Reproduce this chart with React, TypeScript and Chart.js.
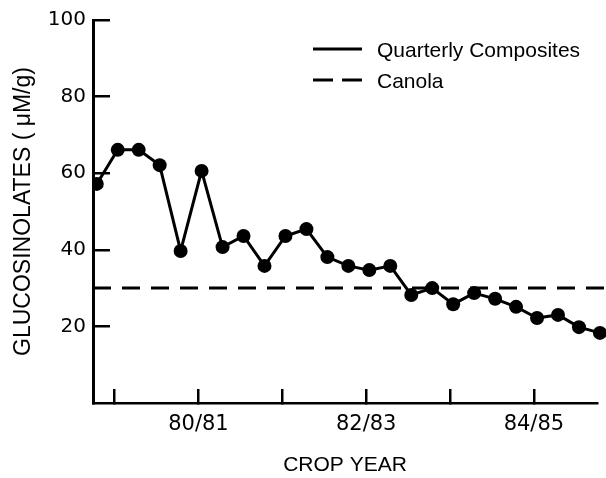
import React, { useEffect, useRef } from "react";
import { Chart, registerables } from "chart.js";

Chart.register(...registerables);

// Quarterly composite glucosinolate values (µM/g), one per quarter
const quarterValues = [
  57.2, 66.1, 66.1, 62.1, 39.7, 60.6, 40.7, 43.6, 35.8, 43.6, 45.4, 38.1, 35.8,
  34.7, 35.8, 28.2, 30.0, 25.8, 28.7, 27.2, 25.1, 22.2, 23.0, 19.8, 18.3,
];
const quarterIndex = quarterValues.map((_, i) => i);
const canolaLevel = 30;
const canolaSpan = [-0.18, 24.4];

const xTickPositions = [0.85, 4.85, 8.85, 12.85, 16.85, 20.85];
const xTickLabels = ["", "80/81", "", "82/83", "", "84/85"];
const yTickValues = [20, 40, 60, 80, 100];

const seriesNames = ["Quarterly Composites", "Canola"];
const yTitle = "GLUCOSINOLATES ( \u03BCM/g)";
const xTitle = "CROP YEAR";

const FONT = "'Liberation Sans', Arial, Helvetica, sans-serif";
const TICK_FONT = "'DejaVu Sans', 'Liberation Sans', sans-serif";

const legendPlugin = {
  id: "insetLegend",
  afterDraw(chart: any) {
    const ctx = chart.ctx;
    const ds = chart.data.datasets;
    ctx.save();
    ctx.strokeStyle = "#000";
    ctx.fillStyle = "#000";
    ctx.lineWidth = 3;
    const rows = [
      { y: 49, dash: [] as number[] },
      { y: 80, dash: [20, 9] },
    ];
    rows.forEach((r, i) => {
      ctx.setLineDash(r.dash);
      ctx.beginPath();
      ctx.moveTo(313, r.y);
      ctx.lineTo(362, r.y);
      ctx.stroke();
      ctx.setLineDash([]);
      ctx.font = `21px ${FONT}`;
      ctx.textBaseline = "middle";
      ctx.textAlign = "left";
      ctx.fillText(ds[i].label, 377, r.y + 2);
    });
    ctx.restore();
  },
};

export default function App() {
  const ref = useRef<HTMLCanvasElement | null>(null);

  useEffect(() => {
    if (!ref.current) return;
    const chart = new Chart(ref.current, {
      type: "line",
      data: {
        datasets: [
          {
            label: seriesNames[0],
            data: quarterIndex.map((x, i) => ({ x, y: quarterValues[i] })),
            borderColor: "#000",
            backgroundColor: "#000",
            borderWidth: 3,
            pointRadius: 7,
            pointBackgroundColor: "#000",
            pointBorderWidth: 0,
            pointHoverRadius: 7,
            tension: 0,
            clip: { left: 0, top: false, right: false, bottom: false } as any,
          },
          {
            label: seriesNames[1],
            data: canolaSpan.map((x) => ({ x, y: canolaLevel })),
            borderColor: "#000",
            borderWidth: 3,
            borderDash: [18, 11],
            pointRadius: 0,
            tension: 0,
            clip: false as any,
          },
        ],
      },
      options: {
        responsive: false,
        animation: false,
        layout: { padding: { left: 0, right: 9, top: 20, bottom: 0 } },
        plugins: {
          legend: { display: false },
          tooltip: { enabled: false },
        },
        scales: {
          x: {
            type: "linear",
            min: -0.18,
            max: 23.86,
            afterBuildTicks: (scale: any) => {
              scale.ticks = xTickPositions.map((v) => ({ value: v }));
            },
            afterFit: (scale: any) => {
              scale.height = 75;
              scale.paddingLeft = 0;
              scale.paddingRight = 0;
            },
            ticks: {
              callback: (_v: any, i: number) => xTickLabels[i],
              color: "#000",
              font: { family: TICK_FONT, size: 21 },
              padding: 23,
              maxRotation: 0,
              autoSkip: false,
            },
            grid: {
              drawOnChartArea: false,
              drawTicks: true,
              tickLength: -14,
              color: "#000",
              lineWidth: 2.5,
            },
            border: { display: true, color: "#000", width: 2.5 },
            title: {
              display: true,
              text: xTitle,
              color: "#000",
              font: { family: FONT, size: 21 },
              padding: { top: 0, bottom: 0 },
            },
          },
          y: {
            min: 0,
            max: 100,
            afterBuildTicks: (scale: any) => {
              scale.ticks = yTickValues.map((v) => ({ value: v }));
            },
            afterFit: (scale: any) => {
              scale.width = 93;
              scale.paddingTop = 0;
              scale.paddingBottom = 0;
            },
            ticks: {
              color: "#000",
              font: { family: TICK_FONT, size: 20 },
              padding: 24,
            },
            grid: {
              drawOnChartArea: false,
              drawTicks: true,
              tickLength: -17,
              color: "#000",
              lineWidth: 2.5,
            },
            border: { display: true, color: "#000", width: 3 },
            title: {
              display: true,
              text: yTitle,
              color: "#000",
              font: { family: FONT, size: 23 },
              padding: { top: 10, bottom: 0 },
            },
          },
        },
      },
      plugins: [legendPlugin],
    } as any);
    return () => chart.destroy();
  }, []);

  return (
    <div style={{ position: "absolute", left: 0, top: 0, width: 606, height: 478, background: "#fff" }}>
      <canvas ref={ref} width={606} height={478} style={{ display: "block" }} />
    </div>
  );
}
